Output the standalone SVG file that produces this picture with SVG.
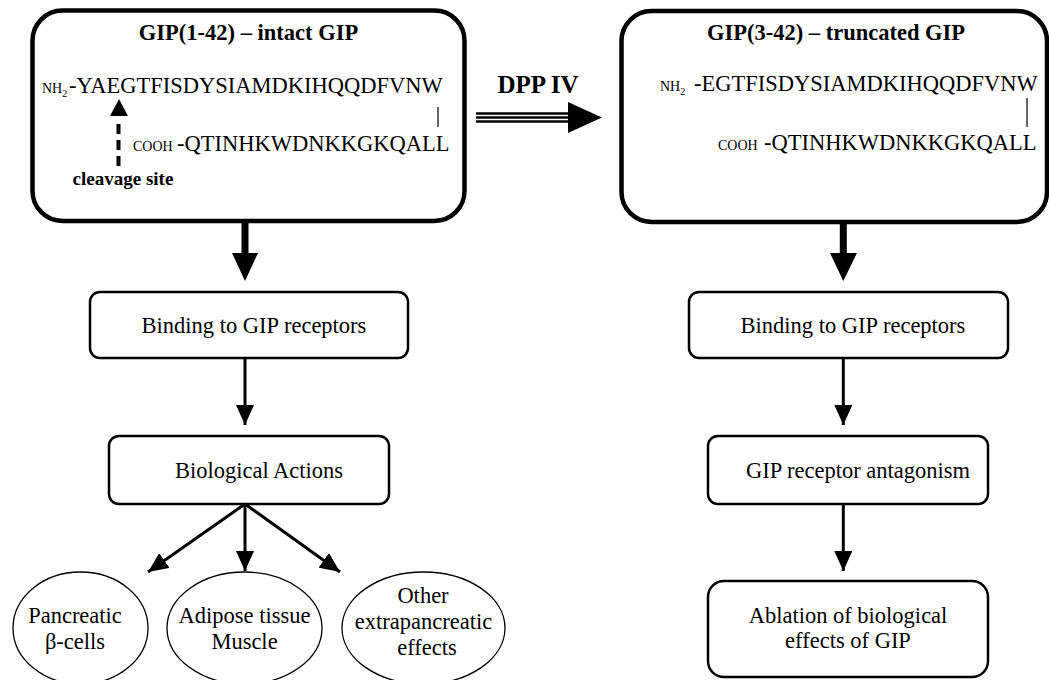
<svg xmlns="http://www.w3.org/2000/svg" width="1049" height="680" viewBox="0 0 1049 680">
<style>
text{font-family:"Liberation Serif","Times New Roman",serif;fill:#000}
.t{font-size:22.5px}
.b{font-weight:bold}
.sm{font-size:14px}
.sub{font-size:10px}
.big{fill:#fff;stroke:#000;stroke-width:4.5}
.box{fill:#fff;stroke:#000;stroke-width:2.5}
.ell{fill:#fff;stroke:#000;stroke-width:1.3}
.ln{stroke:#000;stroke-width:3;fill:none}
</style>
<defs>
<marker id="ah" viewBox="0 0 20 18" refX="20" refY="9" markerWidth="20" markerHeight="18" markerUnits="userSpaceOnUse" orient="auto">
<path d="M0,0 L20,9 L0,18 z" fill="#000"/>
</marker>
</defs>
<rect width="1049" height="680" fill="#fff"/>

<g id="intact">
<rect class="big" x="32.5" y="10.5" width="432" height="210.5" rx="30"/>
<text class="t b" x="248.5" y="40" text-anchor="middle">GIP(1-42) – intact GIP</text>
<text class="t" x="42" y="93"><tspan class="sm">NH</tspan><tspan class="sub" dy="4">2</tspan><tspan x="69" dy="-4">-YAEGTFISDYSIAMDKIHQQDFVNW</tspan></text>
<line x1="438" y1="107" x2="438" y2="127" stroke="#000" stroke-width="1.2"/>
<text class="t" x="133" y="151"><tspan class="sm">COOH</tspan><tspan x="177">-QTINHKWDNKKGKQALL</tspan></text>
<polygon points="110,116 128,116 119,99" fill="#000"/>
<line x1="118.5" y1="124" x2="118.5" y2="166" stroke="#000" stroke-width="4" stroke-dasharray="10 6"/>
<text class="b" x="123" y="185" text-anchor="middle" font-size="19">cleavage site</text>
</g>

<g id="truncated">
<rect class="big" x="621.5" y="11" width="425.5" height="211" rx="30"/>
<text class="t b" x="836" y="40" text-anchor="middle">GIP(3-42) – truncated GIP</text>
<text class="t" x="660" y="91"><tspan class="sm">NH</tspan><tspan class="sub" dy="4">2</tspan><tspan x="694" dy="-4">-EGTFISDYSIAMDKIHQQDFVNW</tspan></text>
<line x1="1027" y1="98" x2="1027" y2="127" stroke="#000" stroke-width="1.2"/>
<text class="t" x="718" y="150"><tspan class="sm">COOH</tspan><tspan x="764">-QTINHKWDNKKGKQALL</tspan></text>
</g>

<g id="dpp">
<text class="b" x="538" y="93" text-anchor="middle" font-size="25">DPP IV</text>
</g>

<g id="bind1">
<rect class="box" x="90" y="292" width="318" height="66" rx="10"/>
<text class="t" x="254" y="333" text-anchor="middle">Binding to GIP receptors</text>
</g>
<g id="bio">
<rect class="box" x="109" y="436" width="280" height="68" rx="10"/>
<text class="t" x="259" y="478" text-anchor="middle">Biological Actions</text>
</g>
<g id="pancreatic">
<ellipse class="ell" cx="80.5" cy="628" rx="67.5" ry="56"/>
<text class="t" x="75" y="623" text-anchor="middle">Pancreatic</text>
<text class="t" x="75" y="649" text-anchor="middle">β-cells</text>
</g>
<g id="adipose">
<ellipse class="ell" cx="244.5" cy="628" rx="77.5" ry="56"/>
<text class="t" x="244.5" y="623" text-anchor="middle">Adipose tissue</text>
<text class="t" x="244.5" y="649" text-anchor="middle">Muscle</text>
</g>
<g id="other">
<ellipse class="ell" cx="423.5" cy="628" rx="81.5" ry="56"/>
<text class="t" x="423" y="603" text-anchor="middle">Other</text>
<text class="t" x="423.5" y="629" text-anchor="middle">extrapancreatic</text>
<text class="t" x="427" y="655" text-anchor="middle">effects</text>
</g>

<g id="bind2">
<rect class="box" x="689" y="292" width="319" height="66" rx="10"/>
<text class="t" x="853" y="333" text-anchor="middle">Binding to GIP receptors</text>
</g>
<g id="antag">
<rect class="box" x="708" y="436" width="280" height="68" rx="10"/>
<text class="t" x="858" y="478" text-anchor="middle">GIP receptor antagonism</text>
</g>
<g id="ablation">
<rect class="box" x="708" y="581" width="280" height="96" rx="16"/>
<text class="t" x="848" y="623" text-anchor="middle">Ablation of biological</text>
<text class="t" x="848" y="648" text-anchor="middle">effects of GIP</text>
</g>

<g id="connectors">
<line x1="245" y1="222" x2="245" y2="255" stroke="#000" stroke-width="7"/>
<polygon points="232,253 258,253 245,281" fill="#000"/>
<line x1="843.3" y1="222" x2="843.3" y2="255" stroke="#000" stroke-width="7"/>
<polygon points="830,253 857,253 843.3,281" fill="#000"/>
<g stroke="#000" stroke-width="2.3">
<line x1="476" y1="113.5" x2="570" y2="113.5"/>
<line x1="476" y1="117.5" x2="570" y2="117.5"/>
<line x1="476" y1="121.5" x2="570" y2="121.5"/>
</g>
<polygon points="568,102 568,133 602,117.5" fill="#000"/>
<line class="ln" x1="245" y1="358" x2="245" y2="425" marker-end="url(#ah)"/>
<line class="ln" x1="245" y1="504" x2="245" y2="571" marker-end="url(#ah)"/>
<line class="ln" x1="245" y1="504" x2="148" y2="572" marker-end="url(#ah)"/>
<line class="ln" x1="245" y1="504" x2="340" y2="572" marker-end="url(#ah)"/>
<line class="ln" x1="843.3" y1="358" x2="843.3" y2="425" marker-end="url(#ah)"/>
<line class="ln" x1="843.3" y1="504" x2="843.3" y2="571" marker-end="url(#ah)"/>
</g>
</svg>
